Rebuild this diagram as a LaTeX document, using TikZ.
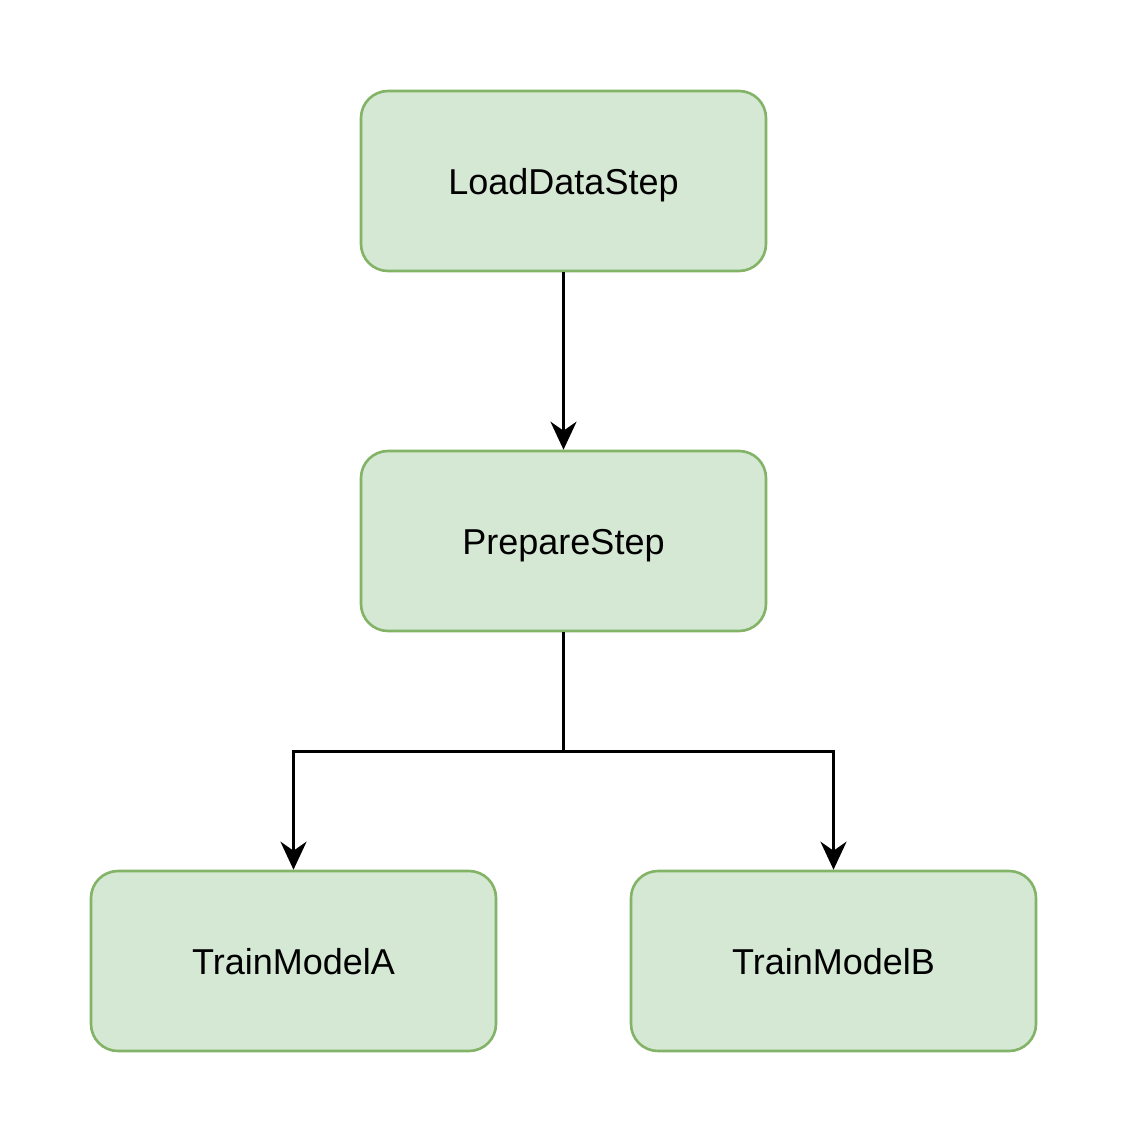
\documentclass[tikz,border=0pt]{standalone}
\usepackage{fontspec}
\setmainfont{Liberation Sans}
\usetikzlibrary{arrows.meta}
\definecolor{boxfill}{HTML}{D5E8D4}
\definecolor{boxline}{HTML}{82B366}
\begin{document}
\begin{tikzpicture}[x=1pt,y=-1pt,
  stepbox/.style={draw=boxline,fill=boxfill,line width=2.6pt,rounded corners=27pt,
    minimum width=405pt,minimum height=180pt,inner sep=0pt,
    text height=30pt,text depth=4pt,
    font=\fontsize{36}{43}\selectfont},
  conn/.style={line width=3pt,-{Stealth[length=28pt,width=26pt,inset=9pt]}}]
\useasboundingbox (0,0) rectangle (1128,1143);
\fill[white] (0,0) rectangle (1128,1143);
\node[stepbox] (load) at (563.5,181) {LoadDataStep};
\node[stepbox] (prep) at (563.5,541) {PrepareStep};
\node[stepbox] (ta) at (293.5,961) {TrainModelA};
\node[stepbox] (tb) at (833.5,961) {TrainModelB};
\draw[conn] (load.south) -- (prep.north);
\coordinate (split) at (563.5,751);
\draw[conn] (prep.south) -- (split) -| (ta.north);
\draw[conn] (split) -| (tb.north);
\end{tikzpicture}
\end{document}
